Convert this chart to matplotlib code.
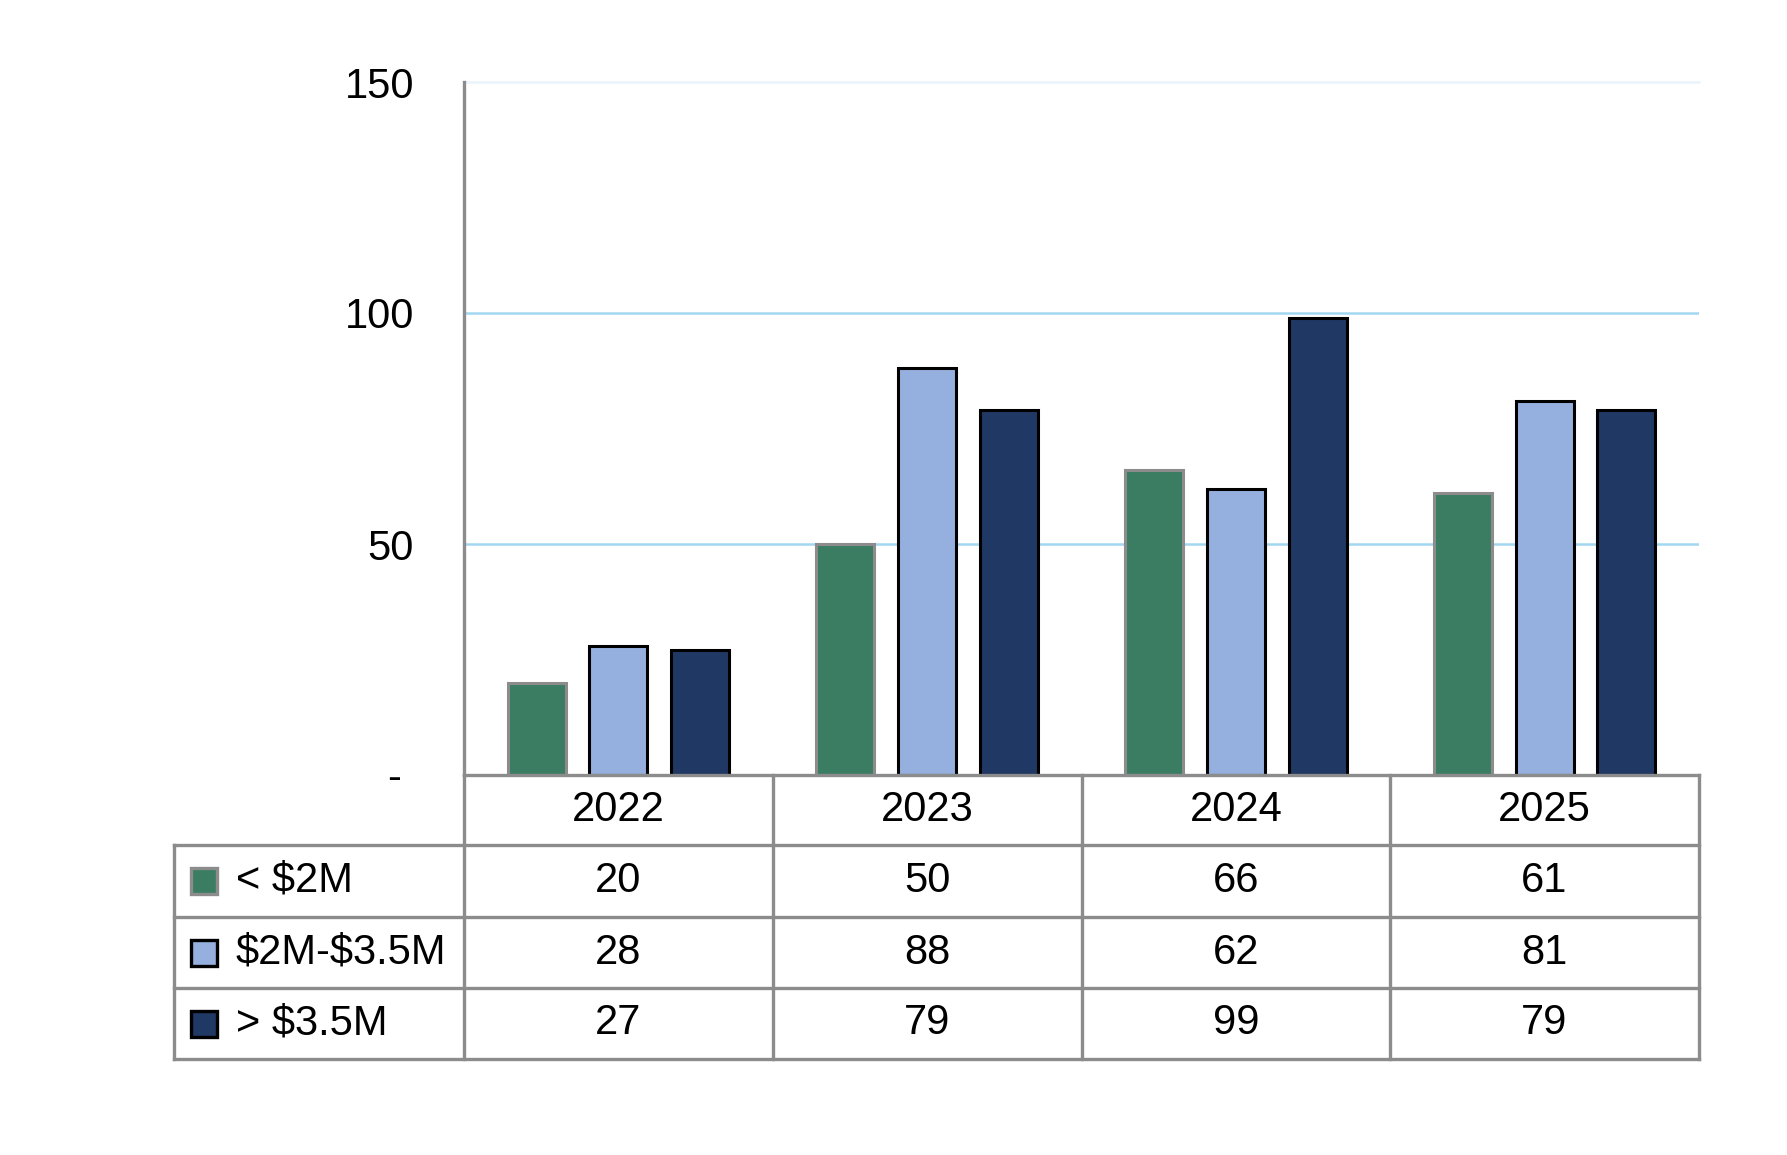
import numpy as np
import matplotlib.pyplot as plt
from matplotlib.patches import Rectangle

# data
years = ['2022', '2023', '2024', '2025']
series_names = ['< $2M', '$2M-$3.5M', '> $3.5M']
under_2m = [20, 50, 66, 61]
mid_2m_35m = [28, 88, 62, 81]
over_35m = [27, 79, 99, 79]
series = [under_2m, mid_2m_35m, over_35m]

colors = ['#3A7D62', '#95B0DE', '#203864']
edges = ['#8C8C8C', 'black', 'black']
grey = '#8C8C8C'

plt.rcParams['font.family'] = ['Liberation Sans', 'DejaVu Sans']
plt.rcParams['text.parse_math'] = False
fs = 30

W, H = 1787, 1155
fig = plt.figure(figsize=(W / 100, H / 100), dpi=100)


def box(l, t, r, b):
    return [l / W, 1 - b / H, (r - l) / W, (b - t) / H]


# bar chart
ax = fig.add_axes(box(464, 82, 1699, 775))
x = np.arange(len(years))
bw, step = 0.188, 0.265
for i, vals in enumerate(series):
    ax.bar(x + (i - 1) * step, vals, bw, color=colors[i], edgecolor=edges[i],
           linewidth=2.2, zorder=3, label=series_names[i])
ax.set_xlim(-0.5, 3.5)
ax.set_ylim(0, 150)
ax.axhline(50, color='#A3D6F0', lw=1.8, zorder=1)
ax.axhline(100, color='#A3D6F0', lw=1.8, zorder=1)
ax.axhline(150, color='#EAF4FA', lw=1.8, zorder=1, clip_on=False)
ax.set_yticks([0, 50, 100, 150], ['- ', '50', '100', '150'])
ax.set_xticks([])
ax.tick_params(axis='y', length=0, pad=36, labelsize=fs)
for s in ['top', 'right', 'bottom']:
    ax.spines[s].set_visible(False)
ax.spines['left'].set_color(grey)
ax.spines['left'].set_linewidth(2.4)

# data table under the chart
tax = fig.add_axes(box(174, 775, 1699, 1059))
tax.set_xlim(174, 1699)
tax.set_ylim(1059, 775)
tax.axis('off')
cols = [464, 773, 1082, 1390, 1699]
rows = [775, 845, 917, 988, 1059]
lw = 2.4
tax.plot([464, 1699], [775, 775], color=grey, lw=lw, clip_on=False)
for yy in rows[1:]:
    tax.plot([174, 1699], [yy, yy], color=grey, lw=lw, clip_on=False)
tax.plot([174, 174], [845, 1059], color=grey, lw=lw, clip_on=False)
for xx in cols:
    tax.plot([xx, xx], [775, 1059], color=grey, lw=lw, clip_on=False)

for j, yr in enumerate(years):
    tax.text((cols[j] + cols[j + 1]) / 2, (rows[0] + rows[1]) / 2, yr,
             ha='center', va='center', fontsize=fs)
for i, vals in enumerate(series):
    yc = (rows[i + 1] + rows[i + 2]) / 2
    tax.add_patch(Rectangle((191, yc - 13), 26, 26, facecolor=colors[i],
                            edgecolor=edges[i], lw=2.4, clip_on=False))
    tax.text(236, yc, series_names[i], ha='left', va='center', fontsize=fs)
    for j, v in enumerate(vals):
        tax.text((cols[j] + cols[j + 1]) / 2, yc, str(v), ha='center',
                 va='center', fontsize=fs)

fig.savefig('out.png', dpi=100)
